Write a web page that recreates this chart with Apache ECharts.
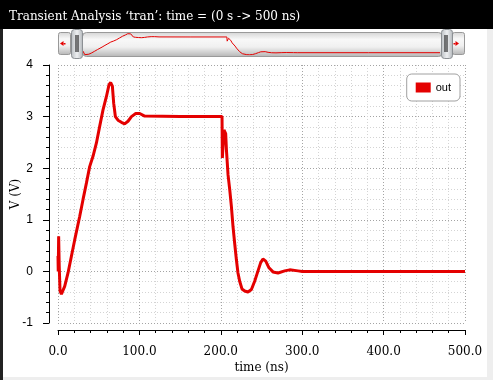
<!DOCTYPE html>
<html><head><meta charset="utf-8">
<script src="https://cdn.jsdelivr.net/npm/echarts@6/dist/echarts.min.js"></script>
<style>html,body{margin:0;padding:0;background:#fff}#c{width:493px;height:380px}</style>
</head><body><div id="c"></div>
<script>
// ---- data ----
const titleText = "Transient Analysis \u2018tran\u2019: time = (0 s -> 500 ns)";
const seriesName = "out";
const xTitle = "time (ns)";
const yTitle = "V (V)";
const timeNs = [0, 0.3, 0.8, 1.5, 2.5, 4.2, 8.2, 12.3, 16.4, 20.5, 26.7, 30.7, 34.9, 38.9, 43, 47.2, 51.2, 55.3, 59.5, 62.7, 64.7, 66.8, 68.4, 70.5, 73.7, 77.9, 81.9, 86, 90.2, 95.5, 100.4, 106.5, 150, 201.5, 201.9, 203.9, 206, 206.9, 208.9, 211, 213, 215, 217, 219.2, 221.1, 223.2, 226, 229.4, 233.4, 237.6, 241.6, 245.7, 249, 251.8, 255.2, 259.2, 264.1, 270.3, 278.5, 284.6, 294.8, 300, 400, 500];
const outV   = [0.3, 0.0, 0.68, 0.1, -0.38, -0.44, -0.29, -0.03, 0.29, 0.61, 1.07, 1.39, 1.71, 2.03, 2.23, 2.49, 2.81, 3.13, 3.39, 3.62, 3.66, 3.59, 3.26, 3.0, 2.93, 2.89, 2.86, 2.91, 3.0, 3.06, 3.06, 3.01, 3.0, 3.0, 2.2, 2.74, 2.67, 2.36, 1.87, 1.58, 1.26, 0.87, 0.55, 0.22, -0.03, -0.19, -0.34, -0.38, -0.40, -0.35, -0.19, 0.01, 0.17, 0.24, 0.20, 0.07, -0.01, -0.03, 0.01, 0.03, 0.01, 0.0, 0.0, 0.0];
const xMin = 0, xMax = 500, xStep = 100;
const yMin = -1, yMax = 4, yStep = 1;

const pts = timeNs.map((t, i) => [t, outV[i]]);
const RED = '#e40000';

function grad(stops) {
  return new echarts.graphic.LinearGradient(0, 0, 0, 1, stops.map((c) => ({offset: c[0], color: c[1]})));
}
const barGrad = () => grad([[0,'#d4d4d4'],[0.3,'#f8f8f8'],[0.6,'#f0f0f0'],[1,'#b4b4b4']]);
const handleGrad = () => new echarts.graphic.LinearGradient(0,0,1,0,[{offset:0,color:'#b8bcc0'},{offset:0.5,color:'#eef0f2'},{offset:1,color:'#b0b4b8'}]);

const chart = echarts.init(document.getElementById('c'), null, {renderer: 'canvas'});
chart.setOption({
  animation: false,
  backgroundColor: '#ffffff',
  legend: {
    data: [seriesName], right: 33, top: 74, icon: 'rect', itemWidth: 15, itemHeight: 10,
    padding: [8, 9, 8, 9], borderColor: '#a0a0a0', borderWidth: 1, borderRadius: 5,
    backgroundColor: '#fff',
    textStyle: {fontFamily: 'Liberation Sans', fontSize: 11, color: '#000'}
  },
  grid: [
    {left: 58, right: 28, top: 65, height: 258, containLabel: false, outerBoundsMode: 'none'},
    {left: 83, top: 33.5, width: 357, height: 21.5, containLabel: false, outerBoundsMode: 'none'}
  ],
  xAxis: [{
    type: 'value', min: xMin, max: xMax, interval: xStep, offset: 7, gridIndex: 0,
    name: xTitle, nameLocation: 'middle', nameGap: 32, nameMoveOverlap: false,
    nameTextStyle: {fontFamily: 'DejaVu Serif', fontSize: 12, color: '#000'},
    axisLine: {show: true, onZero: false, lineStyle: {color: '#000', width: 1}},
    axisTick: {show: true, length: 5, lineStyle: {color: '#000'}},
    minorTick: {show: true, splitNumber: 5, length: 3, lineStyle: {color: '#000'}},
    axisLabel: {margin: 16, fontFamily: 'DejaVu Serif', fontSize: 12, color: '#000', formatter: v => v.toFixed(1)},
    splitLine: {show: true, lineStyle: {color: '#a4a4a4', type: [1, 2], width: 1}},
    minorSplitLine: {show: true, lineStyle: {color: '#d4d4d4', type: [1, 2], width: 1}}
  }, {
    type: 'value', min: xMin, max: xMax, gridIndex: 1, show: false
  }],
  yAxis: [{
    type: 'value', min: yMin, max: yMax, interval: yStep, offset: 9, gridIndex: 0,
    name: yTitle, nameLocation: 'middle', nameGap: 27, nameMoveOverlap: false,
    nameTextStyle: {fontFamily: 'DejaVu Serif', fontSize: 12, color: '#000'},
    axisLine: {show: true, onZero: false, lineStyle: {color: '#000', width: 1}},
    axisTick: {show: true, length: 6, lineStyle: {color: '#000'}},
    minorTick: {show: true, splitNumber: 5, length: 3, lineStyle: {color: '#000'}},
    axisLabel: {margin: 16, fontFamily: 'Liberation Sans', fontSize: 12, color: '#000'},
    splitLine: {show: true, lineStyle: {color: '#a4a4a4', type: [1, 2], width: 1}},
    minorSplitLine: {show: true, lineStyle: {color: '#d4d4d4', type: [1, 2], width: 1}}
  }, {
    type: 'value', min: 'dataMin', max: 'dataMax', gridIndex: 1, show: false
  }],
  series: [{
    name: seriesName, type: 'line', data: pts, xAxisIndex: 0, yAxisIndex: 0,
    showSymbol: false, symbol: 'none', color: RED,
    lineStyle: {color: RED, width: 3}, z: 3
  }, {
    name: 'overview', type: 'line', data: pts, xAxisIndex: 1, yAxisIndex: 1,
    showSymbol: false, symbol: 'none', color: RED, silent: true,
    lineStyle: {color: RED, width: 1}, z: 5
  }],
  graphic: [
    {type: 'rect', shape: {x: 0, y: 0, width: 493, height: 29}, style: {fill: '#000'}, z: 0},
    {type: 'text', x: 9, y: 17, style: {text: titleText, fill: '#fff', font: '12px "DejaVu Serif"', verticalAlign: 'middle'}, z: 1},
    {type: 'rect', shape: {x: 0, y: 29, width: 3, height: 351}, style: {fill: '#222'}, z: 0},
    {type: 'rect', shape: {x: 487, y: 29, width: 6, height: 351}, style: {fill: '#eeeeee'}, z: 0},
    {type: 'rect', shape: {x: 3, y: 377, width: 490, height: 3}, style: {fill: '#eeeeee'}, z: 0},
    {type: 'rect', shape: {x: 82.5, y: 32.5, width: 360, height: 24, r: 4}, style: {fill: barGrad(), stroke: '#9a9a9a', lineWidth: 1}, z: 1},
    {type: 'rect', shape: {x: 58.5, y: 32.5, width: 12, height: 22, r: 2}, style: {fill: barGrad(), stroke: '#999', lineWidth: 1}, z: 1},
    {type: 'polygon', shape: {points: [[60, 43.5], [63.5, 41], [63.5, 46]]}, style: {fill: RED}, z: 2},
    {type: 'rect', shape: {x: 63.5, y: 43, width: 2, height: 1.5}, style: {fill: RED}, z: 2},
    {type: 'rect', shape: {x: 452.5, y: 32.5, width: 12, height: 22, r: 2}, style: {fill: barGrad(), stroke: '#999', lineWidth: 1}, z: 1},
    {type: 'polygon', shape: {points: [[459, 43.5], [455.5, 41], [455.5, 46]]}, style: {fill: RED}, z: 2},
    {type: 'rect', shape: {x: 453.5, y: 43, width: 2, height: 1.5}, style: {fill: RED}, z: 2},
    {type: 'rect', shape: {x: 71.5, y: 29.5, width: 11, height: 29, r: 3}, style: {fill: handleGrad(), stroke: '#8c9094', lineWidth: 1}, z: 20},
    {type: 'rect', shape: {x: 75.5, y: 35, width: 1, height: 17}, style: {fill: '#000'}, z: 21},
    {type: 'rect', shape: {x: 77.5, y: 35, width: 1, height: 17}, style: {fill: '#000'}, z: 21},
    {type: 'rect', shape: {x: 441.5, y: 29.5, width: 11, height: 29, r: 3}, style: {fill: handleGrad(), stroke: '#8c9094', lineWidth: 1}, z: 20},
    {type: 'rect', shape: {x: 444.5, y: 35, width: 1, height: 17}, style: {fill: '#000'}, z: 21},
    {type: 'rect', shape: {x: 446.5, y: 35, width: 1, height: 17}, style: {fill: '#000'}, z: 21}
  ]
});
</script></body></html>
